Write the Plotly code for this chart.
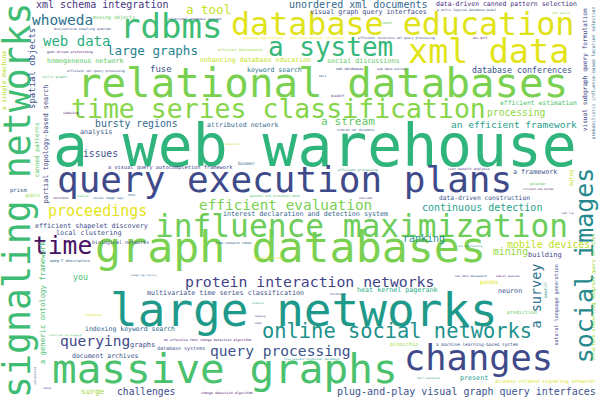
import plotly.graph_objects as go

# words of the cloud
words = [
    "a web warehouse", "relational databases", "large networks", "graph databases",
    "massive graphs", "query execution plans", "influence maximization",
    "time series classification", "xml data", "database education", "rdbms",
    "signaling networks", "social images", "changes", "a system", "time",
    "online social networks", "protein interaction networks", "query processing",
    "proceedings", "efficient evaluation", "querying", "a survey", "whoweda",
    "web data", "large graphs", "a tool", "xml schema integration",
    "unordered xml documents", "visual graph query interfaces",
    "data-driven canned pattern selection", "database conferences",
    "efficient estimation", "processing", "an efficient framework", "a stream",
    "attributed network", "keyword search", "social discussions",
    "enhancing database education", "homogeneous network", "spatial objects",
    "partial topology-based search", "canned patterns", "a single machine",
    "a generic ontology framework", "visual subgraph query formulation",
    "probabilistic influence-based location selection",
    "structure-preserving subgraph query services", "natural language generation",
    "search", "autog", "bursty regions", "analysis", "issues",
    "a visual query autocompletion framework", "prism", "quble",
    "efficient shapelet discovery", "local clustering", "biological networks",
    "mpeg-7 descriptors", "fuse", "interest declaration and detection system",
    "boomer", "cost-benefit analysis", "a framework", "data-driven construction",
    "continuous detection", "ranking", "mobile devices", "mining", "building",
    "you", "multivariate time series classification", "heat kernel pagerank",
    "indexing keyword search", "graphs", "database systems", "document archives",
    "surge", "challenges", "plug-and-play visual graph query interfaces", "panda",
    "neuron", "prediction", "a machine learning-based system", "present",
    "disease-related signaling networks", "pinocchio", "moving objects",
    "disjunctive coupling queries", "relational database systems",
    "goal-driven prefetching", "efficient xml query processing", "cyclic graphs",
    "indexing", "advanced applications : 10th international conference",
    "efficient maintenance", "tenet", "efficient recursive xml query processing",
    "web databases", "web data mining", "bali", "biodiff", "ordered xml documents",
    "a multi-layered database model", "the search", "dsi-diff", "versions",
    "indexes", "social image tags", "dtds", "detection", "efficient processing",
    "genomic and proteomic data", "steroids", "tree-unaware rdbms",
    "research issues", "gblender", "relevant web deltas", "web log",
    "web warehousing", "image tag clarity", "indonesia", "historical xml documents",
    "an effective fast change detection algorithm", "change detection algorithm",
    "web data management", "sparql queries", "fast evaluation",
    "tree-unaware relational databases", "hardtalker", "products", "mapping",
    "what", "structures", "sandy",
]

# relative weight of each word (drives the font size)
weights = [
    58, 40.8, 46, 43.3, 41, 36, 31.2, 26.5, 33.5, 31.7, 34,
    36.5, 25, 35.4, 26, 24.6, 20.4, 14.8, 14.6, 15, 14.4, 14.6, 13.5, 14.5,
    14, 12.6, 12.5, 10, 10, 6.7, 6.5, 8.3, 6.4, 9.7, 9.5, 11.2,
    6.6, 6.5, 6.7, 6.6, 6.7, 9, 6.8, 6.1, 6.2, 7.3, 6.2, 4.6, 4.8, 5,
    4.5, 5.6, 9.8, 6.7, 9.7, 5.3, 5.6, 5, 6.7, 6.8, 5, 3.7, 9, 6.7,
    4.7, 3.3, 6.7, 6.3, 10, 10, 9.9, 9.7, 7, 8.3, 6.7, 6.7, 6.5, 7, 5, 6.5,
    7.7, 9.7, 10, 6, 6.7, 5, 4.4, 6.7, 4.9, 5.2, 5, 3.4, 3.3, 3.3, 3.2, 3.2,
    3.2, 3.2, 3.5, 3.5, 3.2, 3.5, 3.2, 3, 3.2, 3, 3.3, 3, 3, 3.2, 2.8, 3, 3,
    2.8, 3.3, 3.2, 2.8, 3.4, 3.3, 3.4, 2.7, 2.8, 2.7, 2.5, 3, 2.3, 3.3, 3.3,
    2.8, 2.8, 2.6, 2.8, 2.8, 2.5, 2.5, 2.8, 3, 2.8,
]

# layout of the cloud (pixel grid 600 x 400, x-height centre of each word)
word_x = [
    315, 322, 304, 290, 225, 284, 361, 278, 488, 402, 171,
    21, 587, 478, 330, 62, 397, 309, 280, 97, 285, 95, 537, 62,
    76, 152, 208, 102, 358, 368, 506, 522, 538, 516, 514, 348,
    242, 274, 363, 255, 85, 33, 47, 38, 5, 43, 586, 594, 595, 557,
    545, 572, 136, 96, 100, 170, 18, 32, 91, 88, 120, 70, 161, 305,
    246, 469, 535, 484, 482, 424, 548, 510, 545, 80, 225, 397, 130, 142, 181, 105,
    93, 146, 466, 489, 510, 522, 477, 474, 545, 404, 114, 82, 195, 70, 96, 54,
    70, 294, 240, 387, 396, 349, 391, 322, 338, 356, 467, 561, 480, 60, 83, 108, 131,
    232, 358, 275, 366, 233, 268, 538, 538, 568, 470, 144, 93, 66, 207, 227,
    471, 508, 429, 312, 338, 258, 260, 258, 35, 47,
]
word_y = [
    152, 87, 315, 252, 374, 183, 229, 111, 55, 27, 30,
    200, 265, 361, 50, 248, 333, 283, 352, 213, 207, 342, 296, 22,
    43, 52, 11, 6, 6, 13, 5, 71, 104, 114, 126, 123,
    126, 71, 62, 61, 62, 69, 144, 150, 80, 302, 70, 73, 297, 305,
    290, 178, 125, 133, 155, 168, 191, 196, 227, 234, 243, 261, 70, 215,
    164, 169, 173, 198, 209, 240, 246, 253, 256, 278, 294, 291, 330, 346, 349, 357,
    392, 393, 393, 283, 292, 313, 345, 379, 382, 345, 18, 29, 19, 52, 71, 77,
    113, 38, 50, 23, 38, 69, 69, 76, 96, 130, 10, 13, 38, 198, 196, 198, 195,
    144, 170, 196, 198, 243, 258, 184, 189, 213, 246, 276, 315, 336, 340, 393,
    276, 276, 379, 359, 294, 304, 317, 323, 376, 388,
]
vertical = {
    "signaling networks", "social images", "a survey", "spatial objects",
    "partial topology-based search", "canned patterns", "a single machine",
    "a generic ontology framework", "visual subgraph query formulation",
    "probabilistic influence-based location selection",
    "structure-preserving subgraph query services", "natural language generation",
    "search", "autog", "structures",
}
word_colors = [
    "#2fb47c", "#7ad151", "#1f9a8a", "#7ad151", "#4ac16d", "#3e4a89", "#6ccd5a",
    "#86d549", "#e2e418", "#dfe318", "#3dbc74",
    "#3fbc73", "#23898e", "#3e4a89", "#35b779", "#471164", "#21918c", "#414487",
    "#3b528b", "#e5e419", "#7ad151", "#3e4989", "#2c728e", "#2c728e",
    "#29af7f", "#26828e", "#c2df23", "#46337e", "#31688e", "#3e4989", "#472d7b",
    "#3b528b", "#4ac16d", "#8fd744", "#1f9e89", "#5ec962",
    "#31688e", "#2a788e", "#5ec962", "#c8e020", "#5ec962", "#3b528b", "#3e4989",
    "#5ec962", "#b5de2b", "#4ac16d", "#3e4989", "#31688e", "#a0da39", "#3e4989",
    "#2a9d8a", "#c8e020", "#31688e", "#3b528b", "#3b528b", "#3e4989", "#33638d",
    "#8fd744", "#3e4989", "#3b528b", "#3e4989", "#31688e", "#3b528b", "#31688e",
    "#31688e", "#472d7b", "#3b528b", "#3b528b", "#1fa187", "#21918c", "#bddf26",
    "#8fd744", "#3e4989", "#4ac16d", "#3b528b", "#25ab82", "#31688e", "#3e4989",
    "#3b528b", "#3b528b",
    "#9fda3a", "#3e4989", "#3b528b", "#e5e419", "#3b528b", "#5ec962", "#3b528b",
    "#2a9d8a", "#d8e219", "#a0da39", "#5ec962", "#3e4989", "#3e4989", "#471164",
    "#3e4989", "#4ac16d",
    "#471164", "#fde725", "#a0da39", "#5ec962", "#3e4989", "#3b528b", "#3b528b",
    "#3b528b", "#471164", "#3b528b", "#3b528b", "#8fd744", "#471164", "#471164",
    "#4ac16d", "#31688e", "#31688e",
    "#c8e020", "#2a9d8a", "#4ac16d", "#471164", "#31688e", "#e5e419", "#5ec962",
    "#471164", "#3b528b", "#2a9d8a", "#31688e", "#e5e419", "#4ac16d", "#471164",
    "#471164",
    "#3b528b", "#471164", "#2a9d8a", "#2a9d8a", "#3b528b", "#2a9d8a", "#3e4989",
    "#3e4989", "#3b528b", "#3b528b",
]

assert len(words) == len(weights) == len(word_x) == len(word_y) == len(word_colors)

fig = go.Figure()

# plotly centres the em box, the x-height sits a little lower -> nudge up
shift = 0.11

annotations = []
for w, s, x, y, c in zip(words, weights, word_x, word_y, word_colors):
    if w in vertical:
        x, y, angle = x - shift * s, y, -90
    else:
        x, y, angle = x, y - shift * s, 0
    annotations.append(dict(
        x=x, y=y, xref="x", yref="y", text=w, showarrow=False,
        xanchor="center", yanchor="middle", textangle=angle,
        font=dict(family="DejaVu Sans Mono", size=s, color=c),
    ))

fig.update_layout(
    width=600, height=400,
    margin=dict(l=0, r=0, t=0, b=0),
    paper_bgcolor="white", plot_bgcolor="white",
    xaxis=dict(range=[0, 600], visible=False),
    yaxis=dict(range=[400, 0], visible=False),
    annotations=annotations,
    showlegend=False,
)

# page body has a default 8px margin, drop it so the cloud sits at 0,0
fig.write_html("out.html", config={"displayModeBar": False},
               post_script="document.body.style.margin='0';")
